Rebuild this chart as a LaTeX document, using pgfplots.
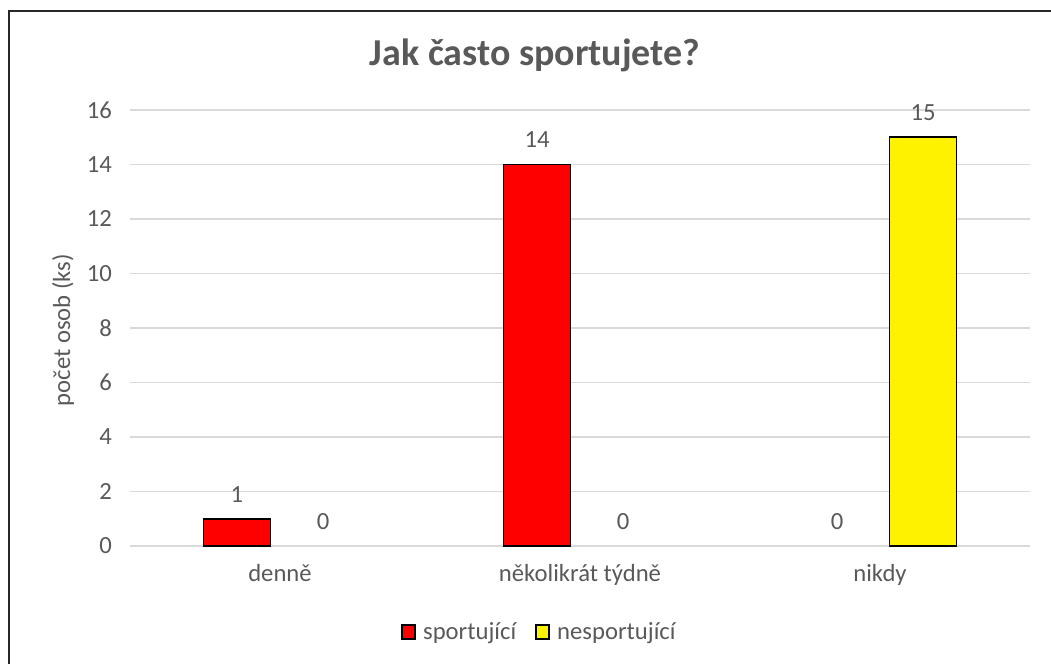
\documentclass[border=0pt]{standalone}
\usepackage{pgfplots}
\pgfplotsset{compat=1.18}
\usepackage{fontspec}
\setmainfont{Carlito}
\definecolor{txt}{RGB}{89,89,89}
\definecolor{gridc}{RGB}{217,217,217}
\newcommand{\tf}{\fontsize{18.5}{22}\selectfont}
\begin{document}
\begin{tikzpicture}
\begin{axis}[
  at={(97.5pt,88.5pt)}, anchor=south west, scale only axis,
  width=675pt, height=327pt,
  xmin=-0.5, xmax=2.5, ymin=0, ymax=16,
  ytick={0,2,...,16}, xtick={0,1,2},
  xticklabels={denně, několikrát týdně, nikdy},
  axis line style={draw=none}, major tick length=0pt,
  ymajorgrids, grid style={gridc, line width=1.1pt},
  ticklabel style={font=\tf, text=txt},
  /pgf/number format/assume math mode=true,
  yticklabel style={xshift=-10pt},
  xticklabel style={yshift=-10pt},
  ybar, bar width=50.25pt,
  nodes near coords,
  nodes near coords style={font=\tf, text=txt, yshift=8.5pt},
  legend style={at={(0.455,-0.197)}, anchor=center, draw=none, fill=none,
    legend columns=2, font=\tf, text=txt,
    /tikz/every even column/.append style={column sep=12pt}},
  legend image code/.code={\draw[#1, draw=black, line width=1.5pt] (0pt,-5pt) rectangle (10pt,5pt); \path[draw=none, fill=none] (10pt,0pt) -- (14pt,0pt);},
  clip=false,
]
\addplot[fill=red, draw=black, line width=1.4pt, bar shift=-32.25pt] coordinates {(0,1) (1,14)};
\addlegendentry{sportující}
\addplot[fill=yellow, draw=black, line width=1.4pt, bar shift=32.25pt] coordinates {(2,15)};
\addlegendentry{nesportující}
\addplot[draw=none, fill=none, bar shift=-32.25pt, forget plot] coordinates {(2,0)};
\addplot[draw=none, fill=none, bar shift=32.25pt, forget plot] coordinates {(0,0) (1,0)};
\end{axis}
\node[font=\bfseries\fontsize{28.5}{34}\selectfont, text=txt] at (401.25pt,456.75pt) {Jak často sportujete?};
\node[rotate=90, font=\tf, text=txt] at (47.25pt,250.5pt) {počet osob (ks)};
\draw[line width=1.5pt, black!85] (6.75pt,0pt) -- (6.75pt,489.75pt) -- (788.25pt,489.75pt);
\pgfresetboundingbox
\path (0pt,0pt) rectangle (788.25pt,498pt);
\end{tikzpicture}
\end{document}
